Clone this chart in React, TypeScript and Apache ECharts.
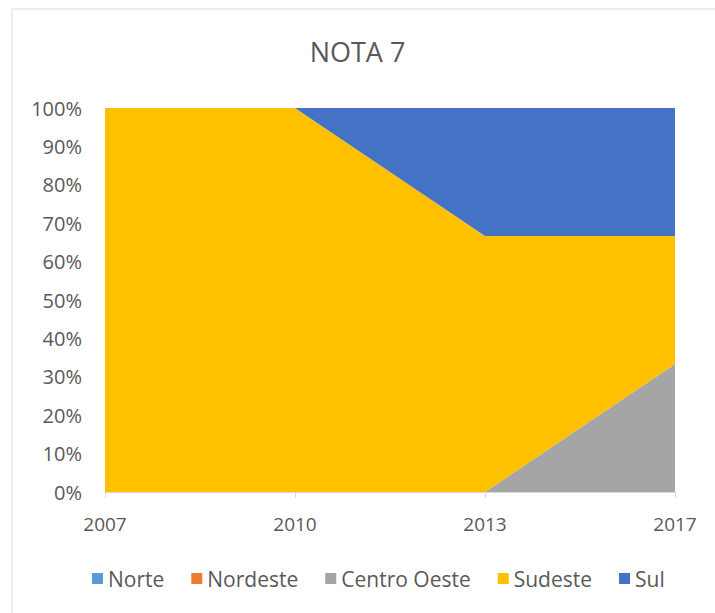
import React, { useEffect, useRef } from "react";
import * as echarts from "echarts";

const years = ["2007", "2010", "2013", "2017"];
const norte = [0, 0, 0, 0];
const nordeste = [0, 0, 0, 0];
const centroOeste = [0, 0, 0, 33.33];
const sudeste = [100, 100, 66.67, 33.33];
const sul = [0, 0, 33.33, 33.34];

const seriesNames = ["Norte", "Nordeste", "Centro Oeste", "Sudeste", "Sul"];
const seriesData = [norte, nordeste, centroOeste, sudeste, sul];
const colors = ["#5B9BD5", "#ED7D31", "#A5A5A5", "#FFC000", "#4472C4"];

const FONT = "'Open Sans', sans-serif";

export default function App() {
  const ref = useRef<HTMLDivElement>(null);
  useEffect(() => {
    if (!ref.current) return;
    const chart = echarts.init(ref.current, null, { renderer: "svg" });
    chart.setOption({
      animation: false,
      backgroundColor: "#ffffff",
      title: {
        text: "NOTA 7",
        left: "center",
        top: 33,
        textStyle: { fontFamily: FONT, fontSize: 27, fontWeight: "normal", color: "#595959" },
      },
      graphic: [
        { type: "line", shape: { x1: 12, y1: 9, x2: 715, y2: 9 }, style: { stroke: "#D9D9D9", lineWidth: 1 } },
        { type: "line", shape: { x1: 12, y1: 9, x2: 12, y2: 613 }, style: { stroke: "#D9D9D9", lineWidth: 1 } },
      ],
      color: colors,
      legend: {
        top: 563,
        left: 87,
        icon: "rect",
        itemWidth: 11,
        itemHeight: 11,
        itemGap: 27,
        textStyle: { fontFamily: FONT, fontSize: 21, color: "#595959", padding: [0, 0, 0, 0] },
        data: seriesNames,
      },
      grid: { left: 105, right: 40, top: 108, bottom: 121, containLabel: false },
      xAxis: {
        type: "category",
        data: years,
        boundaryGap: false,
        axisLine: { lineStyle: { color: "#D9D9D9" } },
        axisTick: { show: true, length: 6, lineStyle: { color: "#D9D9D9" } },
        axisLabel: { fontFamily: FONT, fontSize: 19, color: "#595959", margin: 22 },
        splitLine: { show: false },
      },
      yAxis: {
        type: "value",
        min: 0,
        max: 100,
        interval: 10,
        axisLabel: { formatter: "{value}%", fontFamily: FONT, fontSize: 20, color: "#595959", margin: 23 },
        axisLine: { show: false },
        axisTick: { show: false },
        splitLine: { show: false },
      },
      series: seriesNames.map((name, i) => ({
        name,
        type: "line",
        stack: "total",
        data: seriesData[i],
        showSymbol: false,
        symbol: "none",
        lineStyle: { width: 0 },
        areaStyle: { color: colors[i], opacity: 1 },
        itemStyle: { color: colors[i] },
        z: 2,
      })),
    });
    return () => chart.dispose();
  }, []);
  return <div ref={ref} style={{ position: "absolute", left: 0, top: 0, width: 715, height: 613 }} />;
}
